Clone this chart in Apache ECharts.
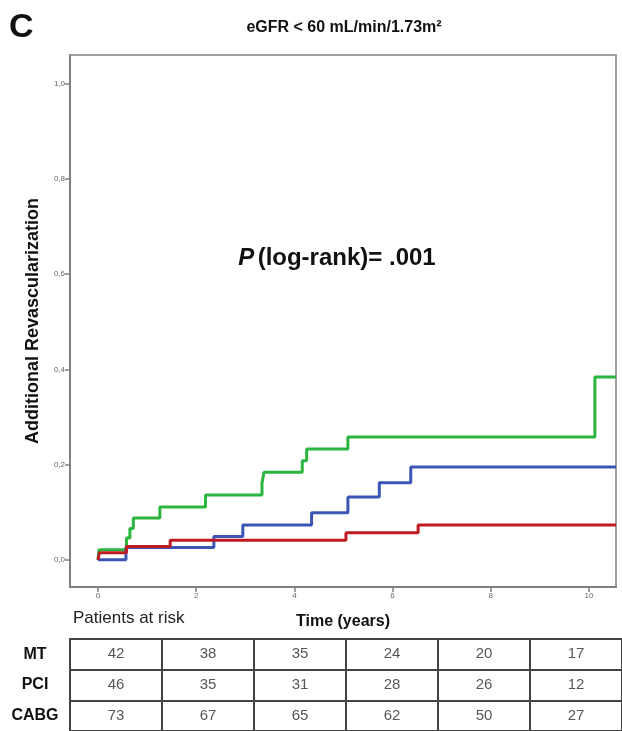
<!DOCTYPE html>
<html>
<head>
<meta charset="utf-8">
<script src="https://cdn.jsdelivr.net/npm/echarts@6/dist/echarts.min.js"></script>
<style>
html,body{margin:0;padding:0;background:#fff;}
#chart{width:622px;height:731px;}
</style>
</head>
<body>
<div id="chart"></div>
<script>
// Kaplan-Meier style cumulative curves: [time (years), cumulative value]
const mtTimes  = [0, 0.02, 0.58, 0.65, 0.72, 1.26, 2.19, 3.34, 3.38, 4.16, 4.25, 5.09, 10.12, 10.55];
const mtValues = [0, 0.021, 0.046, 0.066, 0.088, 0.111, 0.136, 0.161, 0.184, 0.208, 0.233, 0.258, 0.384, 0.384];
const pciTimes  = [0, 0.57, 2.36, 2.95, 4.35, 5.09, 5.73, 6.37, 10.55];
const pciValues = [0, 0.026, 0.049, 0.073, 0.099, 0.132, 0.162, 0.195, 0.195];
const cabgTimes  = [0, 0.03, 0.58, 1.47, 5.05, 6.52, 10.55];
const cabgValues = [0, 0.015, 0.028, 0.041, 0.057, 0.073, 0.073];

const yTicks = [0, 0.2, 0.4, 0.6, 0.8, 1.0];
const xTicks = [0, 2, 4, 6, 8, 10];

// Patients at risk table
const riskGroups = ['MT', 'PCI', 'CABG'];
const riskColumns = ['0', '2', '4', '6', '8', '10'];
const riskMT   = [42, 38, 35, 24, 20, 17];
const riskPCI  = [46, 35, 31, 28, 26, 12];
const riskCABG = [73, 67, 65, 62, 50, 27];

const FONT = '"Liberation Sans", Arial, sans-serif';

function pairs(t, v) { return t.map((x, i) => [x, v[i]]); }
const riskRows = [riskMT, riskPCI, riskCABG];
const tableData = [];
riskRows.forEach((row, r) => row.forEach((v, c) => tableData.push([c, r, v])));

const chart = echarts.init(document.getElementById('chart'));
chart.setOption({
  animation: false,
  backgroundColor: '#fff',
  textStyle: { fontFamily: FONT },
  grid: [
    { left: 70, top: 55, width: 546, height: 532, show: true, borderColor: '#a0a0a0', borderWidth: 2, backgroundColor: '#fff' },
    { left: 70, top: 639, width: 555, height: 93, show: true, borderColor: '#444', borderWidth: 2 }
  ],
  xAxis: [
    {
      gridIndex: 0, type: 'value', min: -0.57, max: 10.55,
      name: 'Time (years)', nameLocation: 'middle', nameGap: 27,
      nameTextStyle: { fontFamily: FONT, fontWeight: 'bold', fontSize: 16, color: '#111' },
      axisLine: { show: true, onZero: false, lineStyle: { color: '#808080', width: 2 } },
      axisTick: { show: true, length: 5, customValues: xTicks, lineStyle: { color: '#808080', width: 1.5 } },
      axisLabel: { customValues: xTicks, fontSize: 8, color: '#666', margin: 5, fontFamily: FONT },
      splitLine: { show: false }
    },
    {
      gridIndex: 1, type: 'category', data: riskColumns, position: 'top',
      axisLine: { show: false }, axisTick: { show: false }, axisLabel: { show: false },
      splitLine: { show: true, lineStyle: { color: '#444', width: 2 } }
    }
  ],
  yAxis: [
    {
      gridIndex: 0, type: 'value', min: -0.057, max: 1.06,
      name: 'Additional Revascularization', nameLocation: 'middle', nameGap: 28,
      nameTextStyle: { fontFamily: FONT, fontWeight: 'bold', fontSize: 18, color: '#111' },
      axisLine: { show: true, onZero: false, lineStyle: { color: '#808080', width: 2 } },
      axisTick: { show: true, length: 5, customValues: yTicks, lineStyle: { color: '#808080', width: 1.5 } },
      axisLabel: { customValues: yTicks, fontSize: 8, color: '#666', margin: 5, fontFamily: FONT,
        formatter: v => v.toFixed(1).replace('.', ',') },
      splitLine: { show: false }
    },
    {
      gridIndex: 1, type: 'category', data: riskGroups, inverse: true,
      axisLine: { show: false }, axisTick: { show: false },
      axisLabel: { fontFamily: FONT, fontWeight: 'bold', fontSize: 16, color: '#111', margin: 35, align: 'center' },
      splitLine: { show: true, lineStyle: { color: '#444', width: 2 } }
    }
  ],
  series: [
    { name: 'MT', type: 'line', xAxisIndex: 0, yAxisIndex: 0, step: 'end', symbol: 'none',
      data: pairs(mtTimes, mtValues), lineStyle: { color: '#2bb53c', width: 3 } },
    { name: 'PCI', type: 'line', xAxisIndex: 0, yAxisIndex: 0, step: 'end', symbol: 'none',
      data: pairs(pciTimes, pciValues), lineStyle: { color: '#3a55b6', width: 3 } },
    { name: 'CABG', type: 'line', xAxisIndex: 0, yAxisIndex: 0, step: 'end', symbol: 'none',
      data: pairs(cabgTimes, cabgValues), lineStyle: { color: '#be1a22', width: 3 } },
    { name: 'risk', type: 'scatter', xAxisIndex: 1, yAxisIndex: 1, symbolSize: 0,
      data: tableData,
      label: { show: true, position: 'inside', formatter: p => String(p.value[2]),
        fontFamily: FONT, fontSize: 15, color: '#2a2a2a' } }
  ],
  graphic: [
    { type: 'text', left: 9, top: 11, style: { text: 'C', font: 'bold 34px ' + FONT, fill: '#111' } },
    { type: 'text', x: 344, y: 28, style: { text: 'eGFR < 60 mL/min/1.73m²', font: 'bold 16px ' + FONT, fill: '#111', align: 'center', verticalAlign: 'middle' } },
    { type: 'text', x: 337, y: 258, style: {
        text: '{i|P} {b|(log-rank)= .001}', align: 'center', verticalAlign: 'middle',
        rich: {
          i: { font: 'italic bold 24px ' + FONT, fill: '#111' },
          b: { font: 'bold 24px ' + FONT, fill: '#111' }
        } } },
    { type: 'text', x: 73, y: 618, style: { text: 'Patients at risk', font: '17px ' + FONT, fill: '#222', verticalAlign: 'middle' } }
  ]
});
</script>
</body>
</html>
